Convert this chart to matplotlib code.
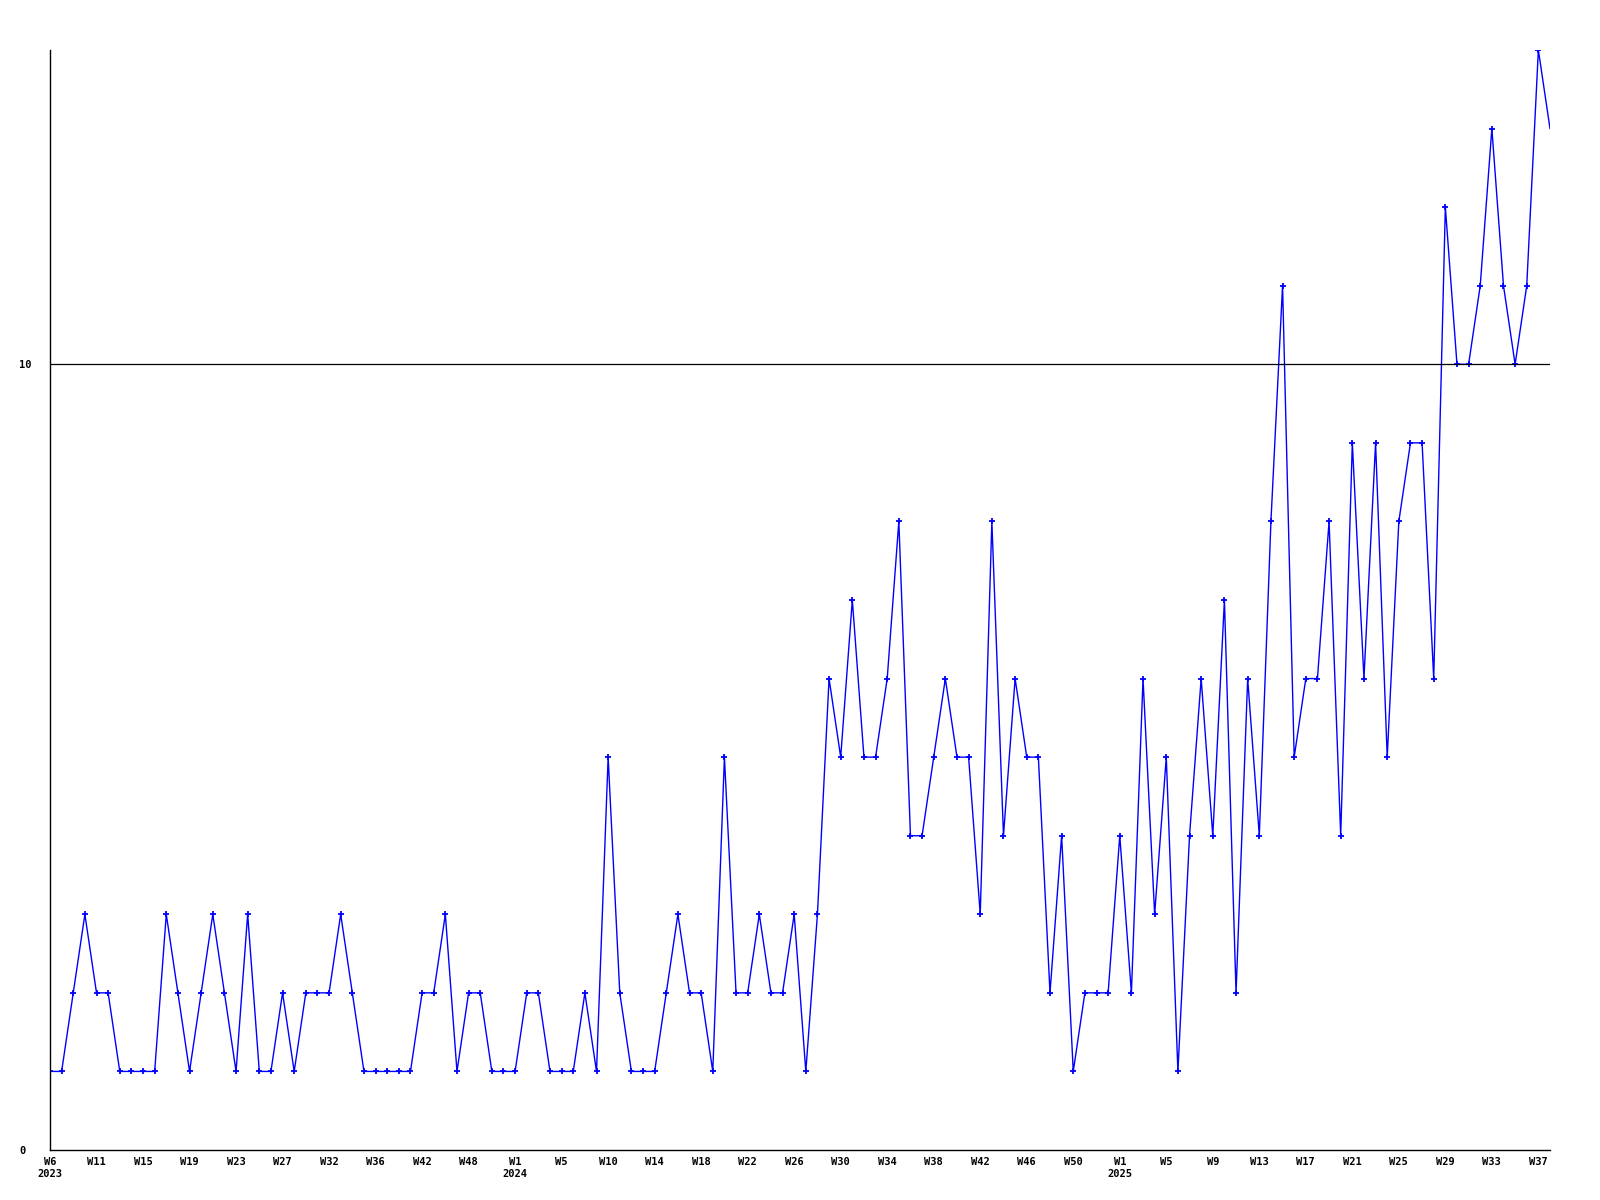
import matplotlib
matplotlib.use("Agg")
import matplotlib.pyplot as plt

# weekly counts, one point per sample
values = [1, 1, 2, 3, 2, 2, 1, 1, 1, 1,
          3, 2, 1, 2, 3, 2, 1, 3, 1, 1,
          2, 1, 2, 2, 2, 3, 2, 1, 1, 1,
          1, 1, 2, 2, 3, 1, 2, 2, 1, 1,
          1, 2, 2, 1, 1, 1, 2, 1, 5, 2,
          1, 1, 1, 2, 3, 2, 2, 1, 5, 2,
          2, 3, 2, 2, 3, 1, 3, 6, 5, 7,
          5, 5, 6, 8, 4, 4, 5, 6, 5, 5,
          3, 8, 4, 6, 5, 5, 2, 4, 1, 2,
          2, 2, 4, 2, 6, 3, 5, 1, 4, 6,
          4, 7, 2, 6, 4, 8, 11, 5, 6, 6,
          8, 4, 9, 6, 9, 5, 8, 9, 9, 6,
          12, 10, 10, 11, 13, 11, 10, 11, 14, 13]

week_labels = ["W6", "W11", "W15", "W19", "W23", "W27", "W32", "W36", "W42", "W48",
               "W1", "W5", "W10", "W14", "W18", "W22", "W26", "W30", "W34", "W38",
               "W42", "W46", "W50", "W1", "W5", "W9", "W13", "W17", "W21", "W25",
               "W29", "W33", "W37"]
year_labels = {0: "2023", 10: "2024", 23: "2025"}
label_step = 4
y_ticks = [0, 10]

fig = plt.figure(figsize=(16, 12), dpi=100)
ax = fig.add_axes([50/1600, 50/1200, 1500/1600, 1100/1200])

x = list(range(len(values)))
ax.plot(x, values, color="#0000ff", linewidth=1.0, marker="+", markersize=4,
        markeredgewidth=1.3, markevery=list(range(len(values) - 1)))
ax.axhline(10, color="black", linewidth=0.9)

ax.set_xlim(0, len(values) - 1)
ax.set_ylim(0, 14)

for s in ["top", "right"]:
    ax.spines[s].set_visible(False)
for s in ["left", "bottom"]:
    ax.spines[s].set_linewidth(1.0)
    ax.spines[s].set_color("black")

tick_pos = [i * label_step for i in range(len(week_labels))]
tick_txt = []
for i, w in enumerate(week_labels):
    if i in year_labels:
        tick_txt.append(w + "\n" + year_labels[i])
    else:
        tick_txt.append(w)
ax.set_xticks(tick_pos)
ax.set_xticklabels(tick_txt, fontfamily="DejaVu Sans Mono", fontweight="bold",
                   fontsize=7.5, linespacing=1.2)
ax.tick_params(axis="x", length=0, pad=5)

ax.set_yticks(y_ticks)
ax.set_yticklabels([str(v) for v in y_ticks], fontfamily="DejaVu Sans Mono",
                   fontweight="bold", fontsize=7.5, ha="left")
ax.tick_params(axis="y", length=0, pad=22)

fig.savefig("out.png", dpi=100)
